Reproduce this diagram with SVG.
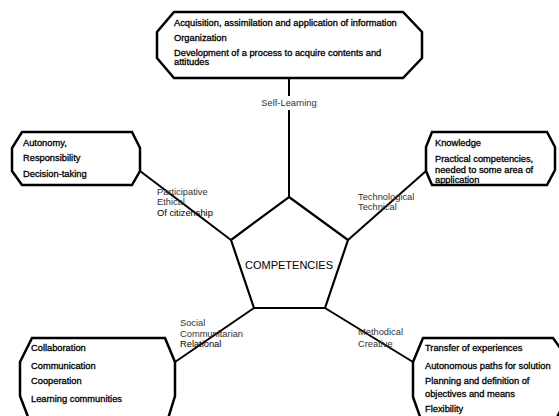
<svg xmlns="http://www.w3.org/2000/svg" width="559" height="416" viewBox="0 0 559 416">
<style>
.box{fill:#fff;stroke:#000;stroke-width:2.5;stroke-linejoin:miter}
.pent{fill:#fff;stroke:#000;stroke-width:2.2}
.con{stroke:#000;stroke-width:2;fill:none}
.bt{font-family:"Liberation Sans",Arial,sans-serif;font-size:9.3px;fill:#000;stroke:#000;stroke-width:0.3}
.lb{font-family:"Liberation Sans",Arial,sans-serif;font-size:9.3px;fill:#333}
.lbk{font-family:"Liberation Sans",Arial,sans-serif;font-size:9.3px;fill:#000}
.ct{font-family:"Liberation Sans",Arial,sans-serif;font-size:11px;fill:#000}
</style>
<rect width="559" height="416" fill="#fff"/>
<g id="connectors">
<line class="con" x1="289" y1="78" x2="289" y2="96"/>
<line class="con" x1="289" y1="110" x2="289" y2="197"/>
<line class="con" x1="140" y1="171" x2="231" y2="240"/>
<line class="con" x1="426" y1="171" x2="348" y2="240"/>
<line class="con" x1="175" y1="362" x2="254" y2="308"/>
<line class="con" x1="413" y1="362" x2="325" y2="308"/>
</g>
<g id="center">
<polygon class="pent" points="289,197 348,240 325,308 254,308 231,240"/>
<text class="ct" x="289" y="269" text-anchor="middle">COMPETENCIES</text>
</g>
<g id="self-learning">
<polygon class="box" points="174,12 403,12 422,32 422,58 403,78 174,78 157,58 157,32"/>
<text class="bt" x="174" y="26">Acquisition, assimilation and application of information</text>
<text class="bt" x="174" y="41">Organization</text>
<text class="bt" x="174" y="56">Development of a process to acquire contents and</text>
<text class="bt" x="174" y="65">attitudes</text>
<text class="lb" x="289" y="106" text-anchor="middle">Self-Learning</text>
</g>
<g id="participative">
<polygon class="box" points="22,132 132,132 140,148 140,171 132,185 22,185 12,171 12,148"/>
<text class="bt" x="23" y="146">Autonomy,</text>
<text class="bt" x="23" y="161">Responsibility</text>
<text class="bt" x="23" y="177">Decision-taking</text>
<text class="lb" x="157" y="195">Participative</text>
<text class="lb" x="157" y="205">Ethical</text>
<text class="lbk" x="157" y="216">Of citizenship</text>
</g>
<g id="technological">
<polygon class="box" points="432,132 547,132 555,147 555,170 547,185 432,185 426,171 426,147"/>
<text class="bt" x="435" y="146">Knowledge</text>
<text class="bt" x="435" y="162">Practical competencies,</text>
<text class="bt" x="435" y="173">needed to some area of</text>
<text class="bt" x="435" y="183">application</text>
<text class="lb" x="358" y="200">Technological</text>
<text class="lb" x="358" y="210">Technical</text>
</g>
<g id="social">
<polygon class="box" points="32,338 165,338 175,362 175,396 167,422 30,422 20,396 20,362"/>
<text class="bt" x="31" y="351">Collaboration</text>
<text class="bt" x="31" y="369">Communication</text>
<text class="bt" x="31" y="384">Cooperation</text>
<text class="bt" x="31" y="402">Learning communities</text>
<text class="lb" x="180" y="326">Social</text>
<text class="lb" x="180" y="337">Communitarian</text>
<text class="lbk" x="180" y="347">Relational</text>
</g>
<g id="methodical">
<polygon class="box" points="423,338 553,338 566,356 566,400 553,425 423,425 413,397 413,362"/>
<text class="bt" x="425" y="351">Transfer of experiences</text>
<text class="bt" x="425" y="369">Autonomous paths for solution</text>
<text class="bt" x="425" y="384">Planning and definition of</text>
<text class="bt" x="425" y="397">objectives and means</text>
<text class="bt" x="425" y="412">Flexibility</text>
<text class="lb" x="358" y="335">Methodical</text>
<text class="lb" x="358" y="347">Creative</text>
</g>
</svg>
